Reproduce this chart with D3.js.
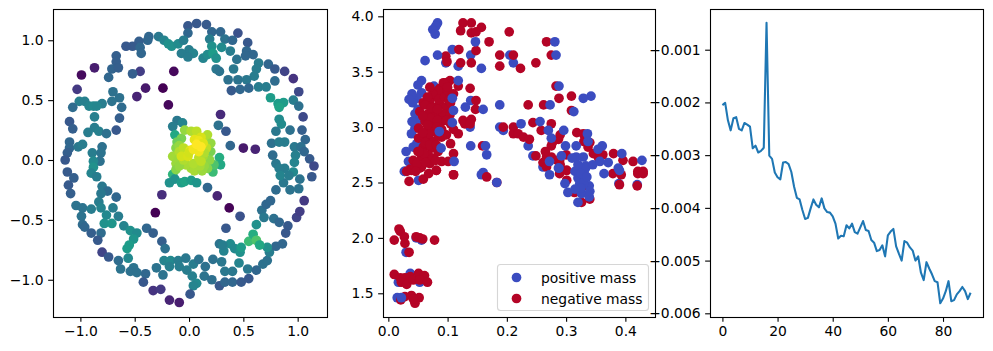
<!DOCTYPE html>
<html><head><meta charset="utf-8">
<script src="https://cdn.jsdelivr.net/npm/d3@7"></script>
<style>html,body{margin:0;padding:0;background:#fff}svg{display:block}text{font-family:"DejaVu Sans",sans-serif}</style>
</head><body><div id="chart"></div>
<script>
// [x, y, density]
const embedding = [[-.01,1.12,.27],[.07,1.14,.27],[.16,1.13,.28],[-.01,1.06,.33],[.21,1.07,.33],[.29,1.07,.33],[.45,1.06,.25],[-.28,1.03,.4],[-.23,1.0,.45],[-.19,.97,.5],[-.16,.95,.5],[-.1,.97,.48],[-.05,1.0,.42],[-.37,1.03,.33],[-.38,1.0,.33],[-.46,.99,.3],[-.52,.95,.28],[-.58,.95,.27],[-.45,.94,.33],[-.44,.89,.33],[.19,1.01,.42],[.33,1.01,.38],[.4,1.0,.33],[.54,.98,.27],[.21,.95,.5],[.3,.94,.48],[0,.92,.42],[-.07,.89,.42],[.04,.89,.45],[-.01,.86,.42],[.13,.85,.45],[.17,.88,.48],[.22,.89,.55],[.25,.85,.5],[.38,.91,.42],[.53,.91,.33],[.59,.88,.33],[.52,.87,.33],[.44,.84,.38],[-.67,.87,.3],[-.67,.82,.3],[-.71,.76,.32],[-.65,.77,.3],[-.74,.69,.33],[-.99,.71,.03],[-.87,.77,.08],[-.14,.74,.02],[-.45,.74,.18],[-.52,.72,.3],[.25,.76,.4],[.28,.74,.38],[.41,.76,.4],[.64,.81,.42],[.73,.8,.33],[.79,.76,.28],[.88,.74,.2],[.96,.68,.15],[.62,.76,.42],[.6,.7,.42],[.45,.67,.38],[.53,.67,.4],[.36,.67,.37],[.79,.66,.35],[-1.03,.59,.17],[-.4,.6,.07],[-.24,.6,0],[-.48,.53,.1],[.39,.58,.28],[.47,.59,.33],[.55,.6,.33],[.64,.61,.42],[.71,.61,.42],[1.01,.57,.22],[-.7,.57,.37],[-.64,.52,.37],[-.71,.49,.38],[-.8,.47,.42],[-1.01,.49,.43],[-.96,.49,.43],[-1.07,.44,.35],[-.92,.45,.45],[-.88,.45,.47],[-.85,.45,.46],[.75,.52,.55],[.82,.47,.55],[.87,.48,.55],[.83,.44,.58],[.96,.5,.42],[1.01,.45,.37],[-.62,.44,.35],[-.19,.46,.02],[-.87,.36,.43],[-.64,.35,.3],[1.05,.36,.22],[.29,.38,.12],[-1.1,.32,.27],[-.11,.33,.4],[-.06,.31,.45],[-.15,.28,.42],[.83,.34,.48],[.85,.3,.48],[-1.07,.26,.3],[-.87,.27,.42],[-.83,.24,.43],[-.93,.23,.42],[-.76,.22,.37],[-.67,.25,.27],[.27,.29,.37],[.34,.24,.27],[.8,.24,.4],[.93,.25,.37],[1.04,.25,.3],[1.07,.17,.33],[-1.1,.15,.33],[-1.1,.1,.33],[-1.02,.11,.4],[-.98,.13,.42],[-.8,.11,.37],[.38,.12,.33],[.5,.1,.07],[.61,.09,.1],[.76,.14,.37],[.88,.15,.42],[.83,.15,.42],[.97,.11,.4],[1.03,.11,.37],[1.06,.07,.33],[.77,.04,.35],[1.11,.01,.28],[1.15,-.05,.22],[-1.12,.06,.3],[-1.14,0,.27],[-.89,.06,.42],[-.81,.06,.38],[-.82,-.01,.37],[-.88,-.01,.47],[-.88,-.06,.5],[.98,.04,.43],[.97,-.02,.45],[.8,-.03,.4],[.88,-.07,.42],[.83,-.07,.42],[-1.12,-.1,.28],[-.9,-.11,.45],[1.13,-.14,.27],
[-1.06,-.15,.3],[-1.11,-.21,.28],[-1.09,-.28,.3],[-.85,-.14,.42],[-1.04,-.38,.38],[-.98,-.4,.38],[-.9,-.41,.42],[-.99,-.47,.38],[-.98,-.54,.35],[-.96,-.56,.33],[-.9,-.61,.3],[-.81,-.61,.35],[-.84,-.67,.28],[-.8,-.22,.4],[-.75,-.26,.35],[-.81,-.28,.4],[-.67,-.31,.33],[-.83,-.35,.42],[-.81,-.4,.45],[-.76,-.46,.47],[-.7,-.4,.42],[-.65,-.47,.42],[-.78,-.53,.5],[-.71,-.53,.52],[-.6,-.55,.45],[-.54,-.59,.5],[-.48,-.61,.48],[-.51,-.66,.52],[-.55,-.71,.55],[-.57,-.74,.55],[-.56,-.82,.47],[-.39,-.57,.33],[-.33,-.61,.3],[-.25,-.68,.3],[-.22,-.74,.37],[-.8,-.77,.2],[-.74,-.81,.27],[-.65,-.84,.35],[-.63,-.91,.38],[-.51,-.9,.38],[-.54,-.93,.37],[-.48,-.94,.37],[-.4,-.95,.33],[-.3,-.9,.38],[-.42,-1.02,.27],[-.33,-1.09,.15],[-.26,-1.08,.17],[-.18,-1.17,.1],[-.09,-1.19,.08],[-.24,-.96,.38],[-.23,-.84,.45],[-.17,-.84,.47],[-.18,-.89,.43],[-.1,-.84,.42],[-.09,-.89,.42],[-.03,-.82,.4],[-.02,-.92,.42],[.04,-.87,.42],[.09,-.83,.38],[.15,-.89,.37],[.22,-.83,.37],[.3,-.85,.4],[.03,-.97,.43],[.07,-1.03,.47],[.04,-1.05,.45],[.01,-1.12,.27],[.14,-.97,.38],[.21,-1.0,.36],[.28,-1.05,.27],[.33,-.93,.4],[.4,-.93,.4],[.33,-1.02,.33],[.4,-1.02,.33],[.48,-1.02,.28],[.55,-.99,.27],[.46,-.86,.45],[.54,-.91,.4],[.62,-.92,.33],[.68,-.87,.37],[.72,-.84,.37],[.74,-.77,.42],[.8,-.72,.33],[.86,-.7,.33],[.72,-.73,.5],[.28,-.7,.38],[.32,-.76,.45],[.38,-.7,.48],[.31,-.71,.42],[.42,-.74,.47],[.47,-.77,.5],[.48,-.73,.55],[.55,-.68,.68],[.59,-.62,.62],[.62,-.67,.72],[.65,-.71,.6],[.62,-.54,.5],[.34,-.57,.27],[.47,-.47,.25],[.37,-.4,.01],[-.31,-.44,0],[.67,-.42,.37],[.71,-.37,.33],[.75,-.34,.33],[.69,-.48,.4],[.78,-.49,.37],[.83,-.52,.33],[.91,-.55,.28],[.89,-.61,.27],[.99,-.48,.2],[1.02,-.43,.18],[1.06,-.34,.17],[.8,-.25,.35],[.87,-.19,.4],[.93,-.25,.38],[1.01,-.24,.38],[1.02,-.16,.38],[.96,-.1,.47],[.84,-.13,.45],[.92,-.13,.42],
[-.25,-.29,.13],[.26,-.3,.1],[.17,-.23,.33],
[-.13,.21,.6],[.28,.02,.62],[.29,-.04,.6],[.22,-.1,.68],[-.15,-.12,.65],[-.18,-.19,.5],[-.13,-.16,.5],[-.07,-.19,.55],[-.04,-.18,.58],[.02,-.17,.55],[.07,-.19,.52],[.23,-.04,.72],
[-.07,.18,.8],[-.04,.25,.84],[.02,.24,.88],[.17,.21,.88],[.07,.24,.9],[-.11,.15,.78],[-.12,.1,.82],[-.15,.03,.86],[-.12,-.03,.85],[.2,.07,.8],[.17,.15,.88],[.19,0,.83],[.17,-.07,.82],[.08,-.07,.87],[.02,-.07,.86],[-.09,.12,.84],[.13,.03,.86],[-.03,-.04,.87],[.05,-.09,.87],[.12,-.09,.85],[-.12,-.08,.82],[.14,-.05,.84],[.1,-.05,.87],[-.1,0,.85],[-.09,-.05,.84],[.2,.14,.84],[-.05,0,.88],[.04,-.03,.88],[-.09,.07,.88],[-.05,.1,.9],[.16,.1,.9],
[.11,.19,.94],[.01,.08,.96],[-.07,.03,.93],[.09,.02,.9],[.11,-.01,.9],[-.01,.03,.94],[.14,.06,.88],[0,.06,.93],[.05,.17,.96],[.09,.16,.97],[.13,.14,.95],[.04,.09,.98],[.09,.07,.98],[.07,.13,1],[.11,.11,1]];

const positiveBack = [[.056,3.42],[.056,3.31],[.048,3.26],[.041,3.22],[.045,3.12],[.051,3.06],[.045,2.99],[.039,2.94],[.042,2.82],[.034,2.69],[.028,2.6],[.027,2.6],[.05,3.38],[.04,3.3],[.035,3.25],[.05,3.16],[.04,3.05],[.048,2.85],[.03,2.78],[.188,3.0],[.194,2.97],[.205,3.65],[.211,3.58],[.139,3.65],[.118,3.55],[.097,3.58],[.108,3.7],[.139,3.24],[.138,3.0],[.236,2.83],[.244,2.74],[.16,2.59],[.157,2.57],[.051,2.52],[.03,1.87],[.056,1.98],[.047,2.0],[.037,1.68],[.017,1.6],[.053,1.6],[.015,1.46],[.261,2.64],[.077,3.37],[.096,3.28],[.389,2.49],[.42,2.48]];
const negativeMass = [[.126,3.94],[.14,3.94],[.157,3.9],[.122,3.87],[.14,3.85],[.148,3.86],[.204,3.86],[.17,3.77],[.267,3.77],[.275,3.65],[.119,3.7],[.148,3.69],[.097,3.64],[.099,3.59],[.122,3.58],[.14,3.58],[.188,3.65],[.211,3.65],[.188,3.55],[.223,3.53],[.249,3.58],[.104,3.42],[.096,3.4],[.087,3.35],[.118,3.37],[.138,3.35],[.283,3.37],[.288,3.26],[.309,3.28],[.148,3.24],[.147,3.16],[.236,3.2],[.262,3.2],[.309,3.15],[.059,3.22],[.07,3.24],[.081,3.29],[.09,3.32],[.076,3.18],[.087,3.21],[.098,3.18],[.053,3.14],[.067,3.12],[.081,3.12],[.093,3.12],[.104,3.11],[.062,3.05],[.076,3.03],[.09,3.05],[.051,2.99],[.067,2.99],[.079,2.96],[.098,2.93],[.118,2.94],[.051,2.9],[.065,2.9],[.076,2.87],[.09,2.91],[.059,2.82],[.073,2.81],[.084,2.78],[.11,2.76],[.042,2.7],[.056,2.73],[.067,2.75],[.09,2.69],[.101,2.69],[.056,2.64],[.07,2.67],[.081,2.61],[.11,2.57],[.037,2.62],[.126,3.06],[.14,3.07],[.129,3.03],[.138,3.03],[.159,2.83],[.194,3.0],[.211,3.0],[.211,2.94],[.219,2.94],[.228,2.91],[.238,2.89],[.244,3.04],[.258,2.97],[.275,3.03],[.249,2.74],[.287,2.89],[.275,2.83],[.329,2.94],[.337,2.82],[.346,2.76],[.362,2.75],[.38,2.76],[.396,2.7],[.413,2.69],[.421,2.6],[.43,2.6],[.267,2.73],[.275,2.73],[.289,2.7],[.261,2.68],[.267,2.64],[.301,2.61],[.329,2.61],[.031,2.6],[.039,2.61],[.035,2.51],[.053,2.63],[.059,2.53],[.081,2.61],[.11,2.57],[.166,2.55],[.183,2.5],[.045,2.64],[.301,2.52],[.289,2.58],[.301,2.61],[.314,2.41],[.326,2.32],[.34,2.35],[.393,2.57],[.379,2.58],[.39,2.48],[.42,2.47],[.421,2.58],[.43,2.58],[.018,2.08],[.02,2.06],[.027,2.01],[.01,1.98],[.028,1.95],[.035,1.87],[.047,2.01],[.053,2.0],[.058,1.99],[.078,1.98],[.01,1.67],[.02,1.64],[.028,1.64],[.037,1.65],[.051,1.68],[.061,1.66],[.022,1.6],[.031,1.58],[.042,1.62],[.053,1.62],[.066,1.6],[.021,1.44],[.028,1.47],[.039,1.48],[.052,1.46],[.045,1.41],[.042,1.45],
[.093,3.4],[.084,3.33],[.075,3.3],[.066,3.27],[.062,3.2],[.072,3.17],[.085,3.25],[.095,3.27],[.102,3.24],[.083,3.16],[.071,3.08],[.058,3.1],[.066,3.02],[.083,3.06],[.098,3.06],[.082,3.0],[.07,2.94],[.058,2.95],[.085,2.92],[.062,2.86],[.07,2.84],[.081,2.84],[.05,2.78],[.06,2.76],[.075,2.72],[.048,2.67],[.063,2.68],[.08,2.7],[.046,2.6],[.068,2.58],[.052,2.78],[.09,2.98],[.105,3.03],[.1,3.33],[.11,3.3],[.07,3.36],[.105,2.85],[.11,2.98],[.1,3.36],[.105,3.22],
[.277,2.86],[.29,2.93],[.318,2.95],[.33,2.87],[.34,2.86],[.265,2.78],[.285,2.7],[.29,2.66],[.3,2.75],[.33,2.47],[.355,2.72]];
const positiveFront = [[.083,3.94],[.08,3.91],[.075,3.88],[.079,3.84],[.147,3.77],[.281,3.77],[.283,3.65],[.083,3.65],[.062,3.6],[.157,3.53],[.118,3.42],[.288,3.37],[.342,3.28],[.329,3.26],[.188,3.2],[.273,3.2],[.313,3.14],[.16,3.16],[.13,3.18],[.11,3.15],[.108,3.26],[.108,3.04],[.086,2.96],[.089,2.81],[.139,2.83],[.164,2.83],[.166,2.75],[.111,2.69],[.256,3.05],[.224,3.03],[.296,2.97],[.27,2.97],[.336,2.94],[.337,2.87],[.299,2.83],[.317,2.83],[.361,2.83],[.354,2.8],[.394,2.76],[.428,2.7],[.292,2.74],[.317,2.73],[.329,2.73],[.272,2.69],[.287,2.63],[.357,2.69],[.371,2.68],[.388,2.63],[.315,2.6],[.333,2.65],[.275,2.9],[.183,2.5],[.272,2.57],[.288,2.63],[.298,2.49],[.303,2.41],[.32,2.32],[.326,2.4],[.323,2.49],[.32,2.54],[.331,2.57],[.333,2.63],[.339,2.47],[.339,2.37],[.364,2.58],[.39,2.61],[.022,1.46],[.32,2.66],[.325,2.58],[.33,2.5],[.325,2.45],[.315,2.44],[.34,2.42],[.335,2.55],[.31,2.72],[.345,2.66]];

const lossValues = [-2.05,-2.01,-2.34,-2.53,-2.30,-2.28,-2.50,-2.53,-2.39,-2.42,-2.46,-2.87,-2.82,-2.95,-2.92,-2.86,-0.49,-3.01,-3.07,-3.33,-3.42,-3.46,-3.14,-3.13,-3.17,-3.32,-3.60,-3.81,-3.84,-4.04,-4.21,-4.19,-4.01,-3.84,-3.94,-3.99,-3.82,-4.01,-4.08,-4.09,-4.16,-4.30,-4.58,-4.53,-4.54,-4.33,-4.39,-4.30,-4.46,-4.49,-4.37,-4.25,-4.42,-4.44,-4.61,-4.66,-4.82,-4.80,-4.71,-4.92,-4.52,-4.45,-4.40,-4.73,-4.87,-5.00,-4.63,-4.66,-4.75,-4.81,-5.00,-4.92,-5.23,-5.37,-5.03,-5.15,-5.26,-5.39,-5.41,-5.81,-5.72,-5.58,-5.39,-5.77,-5.75,-5.64,-5.58,-5.50,-5.58,-5.73,-5.61];

const ticksA_x = [-1,-.5,0,.5,1], ticksA_y = [-1,-.5,0,.5,1];
const ticksB_x = [0,.1,.2,.3,.4], ticksB_y = [1.5,2,2.5,3,3.5,4];
const ticksC_x = [0,20,40,60,80], ticksC_y = [-.001,-.002,-.003,-.004,-.005,-.006];
const legendLabels = ["positive mass","negative mass"];
const BLUE = "#3b4cc0", RED = "#b40426";
const FS = 13.89, R = 4.85;

const svg = d3.select("#chart").append("svg").attr("width",993).attr("height",351);
svg.append("rect").attr("width",993).attr("height",351).attr("fill","#fff");

function panel(x0,x1,y0,y1,xd,yd,xt,yt,xf,yf){
  const x = d3.scaleLinear().domain(xd).range([x0,x1]);
  const y = d3.scaleLinear().domain(yd).range([y1,y0]);
  const g = svg.append("g");
  const plot = g.append("g");
  const ax = g.append("g").attr("transform",`translate(0,${y1})`)
    .call(d3.axisBottom(x).tickValues(xt).tickFormat(xf).tickSize(4.86).tickPadding(4.2).tickSizeOuter(0));
  const ay = g.append("g").attr("transform",`translate(${x0},0)`)
    .call(d3.axisLeft(y).tickValues(yt).tickFormat(yf).tickSize(4.86).tickPadding(4.6).tickSizeOuter(0));
  [ax,ay].forEach(a=>{
    a.select(".domain").remove();
    a.selectAll("line").attr("stroke","#000").attr("stroke-width",1.1);
    a.selectAll("text").attr("font-size",FS).attr("font-family",'"DejaVu Sans"').attr("fill","#000");
  });
  g.append("rect").attr("x",x0+.5).attr("y",y0+.5).attr("width",x1-x0).attr("height",y1-y0)
    .attr("fill","none").attr("stroke","#000").attr("stroke-width",1.1);
  return {x,y,plot,g};
}
const f1 = d3.format(".1f"), f3 = d3.format(".3f"), f0 = d3.format("d");

// Panel A
const A = panel(53,327,9,317,[-1.252,1.27],[-1.311,1.261],ticksA_x,ticksA_y,f1,f1);
A.plot.selectAll("circle").data(embedding).join("circle")
  .attr("cx",d=>A.x(d[0])).attr("cy",d=>A.y(d[1])).attr("r",R)
  .attr("fill",d=>d3.interpolateViridis(d[2]));

// Panel B
const B = panel(383,655,9,317,[-.009,.45],[1.286,4.066],ticksB_x,ticksB_y,f1,f1);
function dots(arr,col){
  B.plot.append("g").selectAll("circle").data(arr).join("circle")
    .attr("cx",d=>B.x(d[0])).attr("cy",d=>B.y(d[1])).attr("r",R).attr("fill",col);
}
dots(positiveBack,BLUE); dots(negativeMass,RED); dots(positiveFront,BLUE);
const lg = B.g.append("g");
lg.append("rect").attr("x",497.5).attr("y",264.5).attr("width",151).attr("height",46).attr("rx",3)
  .attr("fill","#fff").attr("fill-opacity",.8).attr("stroke","#ccc").attr("stroke-opacity",.8).attr("stroke-width",1.1);
legendLabels.forEach((t,i)=>{
  const yy = 277.5+i*21;
  lg.append("circle").attr("cx",516.5).attr("cy",yy).attr("r",R).attr("fill",i?RED:BLUE);
  lg.append("text").attr("x",541).attr("y",yy+5).attr("font-size",FS).attr("fill","#000").text(t);
});

// Panel C
const C = panel(710,983,9,317,[-4.5,94.5],[-.00607,-.000228],ticksC_x,ticksC_y,f0,f3);
C.plot.append("path").datum(lossValues)
  .attr("fill","none").attr("stroke","#1f77b4").attr("stroke-width",2.08).attr("stroke-linejoin","round")
  .attr("d",d3.line().x((d,i)=>C.x(i)).y(d=>C.y(d*.001)));
</script></body></html>
